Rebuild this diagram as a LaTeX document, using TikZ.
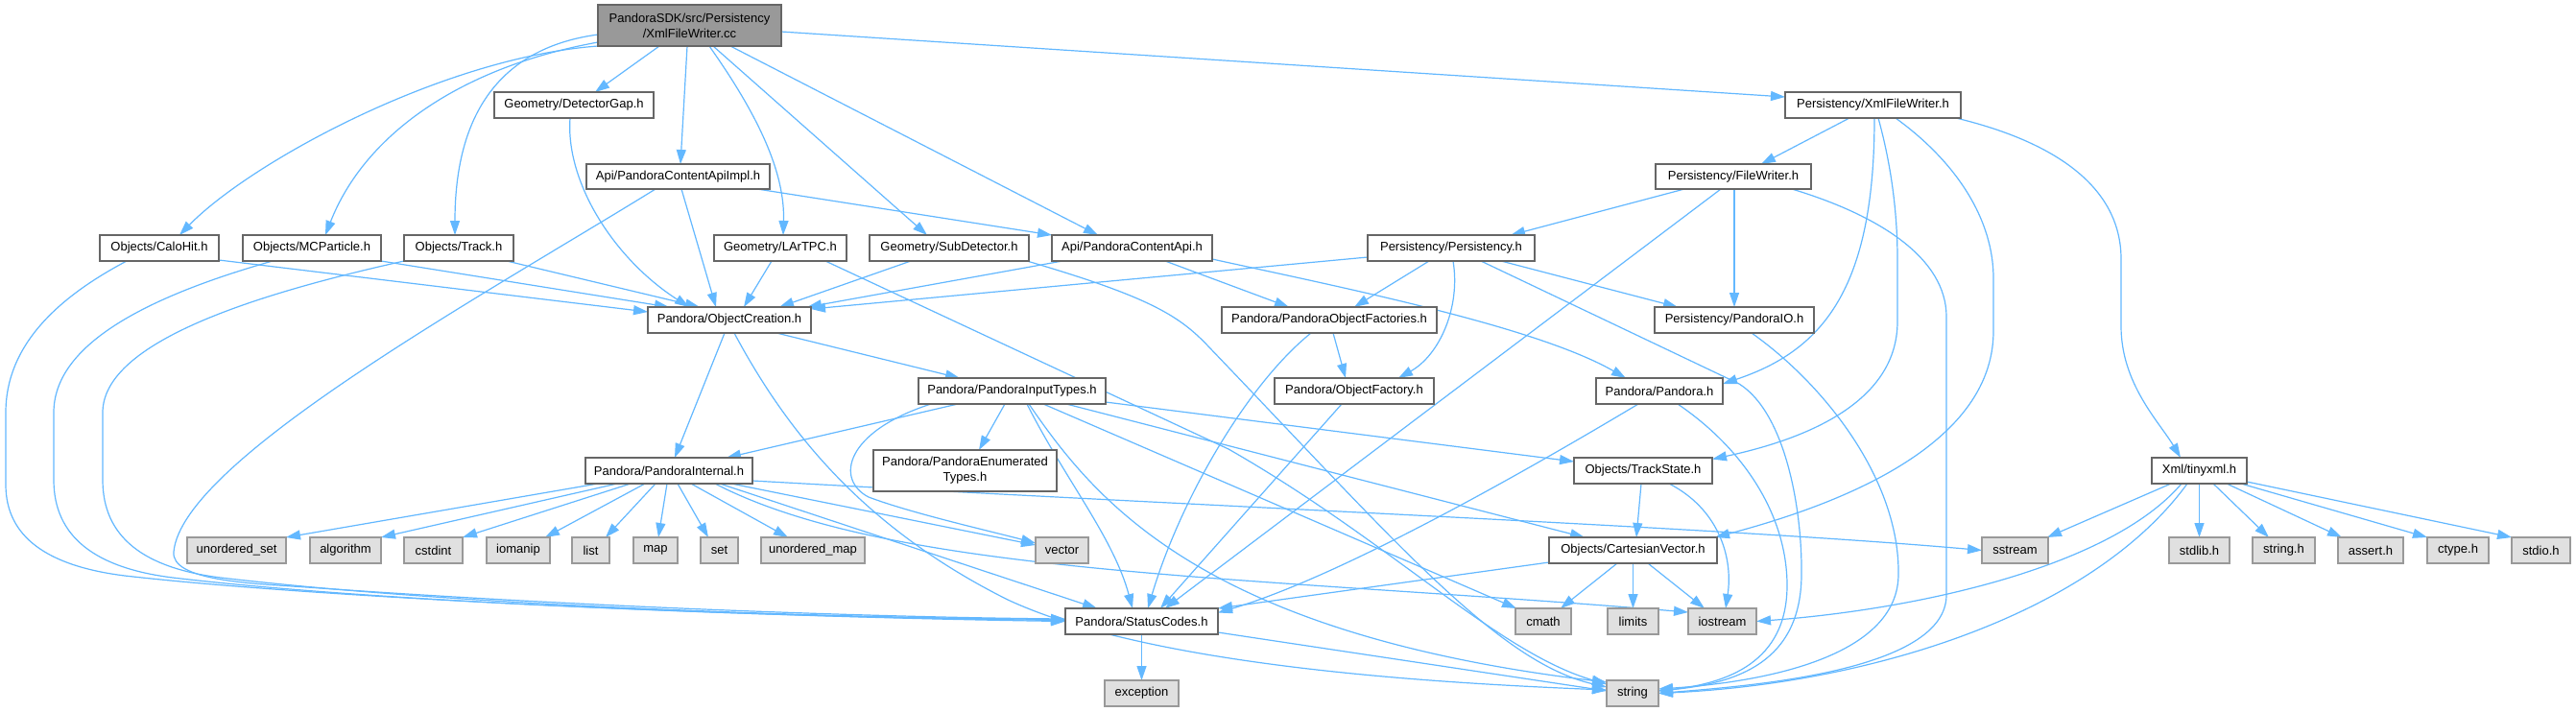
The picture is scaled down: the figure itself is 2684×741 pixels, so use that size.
\documentclass[tikz,border=0pt]{standalone}
\usepackage{fontspec}
\setmainfont{Liberation Sans}
\usetikzlibrary{arrows.meta,calc}
\definecolor{edgeblue}{HTML}{63B8FF}
\definecolor{bordergray}{HTML}{666666}
\definecolor{lightborder}{HTML}{999999}
\definecolor{extfill}{HTML}{E0E0E0}
\definecolor{mainfill}{HTML}{999999}
\pgfdeclarelayer{bg}
\pgfsetlayers{bg,main}
\newcommand{\gnode}[7]{\node[#1, minimum width={(#5-#3)*0.5pt}, minimum height={(#6-#4)*0.5pt}] (#2) at ({(#3+#5)/2},{(#4+#6)/2}) {#7};}
\begin{document}
\begin{tikzpicture}[x=0.5pt, y=-0.5pt,
  basebox/.style={rectangle, inner sep=0pt, outer sep=0pt, line width=0.7pt, align=center, text=black, font=\fontsize{6.5}{8}\selectfont},
  wnode/.style={basebox, draw=bordergray, fill=white},
  xnode/.style={basebox, draw=lightborder, fill=extfill},
  mainnode/.style={basebox, draw=bordergray, fill=mainfill},
  dep/.style={draw=edgeblue, line width=0.6pt, -{Triangle[length=7.5pt,width=5pt]}}]
\useasboundingbox (0,0) rectangle (2684,741);
% nodes
\gnode{mainnode}{main}{623}{5}{814}{48}{PandoraSDK/src/Persistency\\/XmlFileWriter.cc}
\gnode{wnode}{detgap}{515}{96}{681}{123}{Geometry/DetectorGap.h}
\gnode{wnode}{xmlh}{1860}{96}{2043}{123}{Persistency/XmlFileWriter.h}
\gnode{wnode}{apiimpl}{611}{171}{802}{197}{Api/PandoraContentApiImpl.h}
\gnode{wnode}{filewriter}{1725}{171}{1887}{197}{Persistency/FileWriter.h}
\gnode{wnode}{calohit}{104}{245}{228}{272}{Objects/CaloHit.h}
\gnode{wnode}{mcpart}{253}{245}{397}{272}{Objects/MCParticle.h}
\gnode{wnode}{track}{421}{245}{535}{272}{Objects/Track.h}
\gnode{wnode}{lartpc}{744}{245}{882}{272}{Geometry/LArTPC.h}
\gnode{wnode}{subdet}{906}{245}{1072}{272}{Geometry/SubDetector.h}
\gnode{wnode}{api}{1096}{245}{1263}{272}{Api/PandoraContentApi.h}
\gnode{wnode}{persist}{1425}{245}{1599}{272}{Persistency/Persistency.h}
\gnode{wnode}{objcreate}{675}{320}{845}{347}{Pandora/ObjectCreation.h}
\gnode{wnode}{objfact}{1273}{320}{1497}{347}{Pandora/PandoraObjectFactories.h}
\gnode{wnode}{pandoraio}{1724}{320}{1890}{347}{Persistency/PandoraIO.h}
\gnode{wnode}{inputtypes}{957}{394}{1152}{421}{Pandora/PandoraInputTypes.h}
\gnode{wnode}{objfactory}{1328}{394}{1494}{421}{Pandora/ObjectFactory.h}
\gnode{wnode}{pandorah}{1663}{394}{1795}{421}{Pandora/Pandora.h}
\gnode{wnode}{internal}{610}{477}{784}{504}{Pandora/PandoraInternal.h}
\gnode{wnode}{enumtypes}{910}{469}{1101}{512}{Pandora/PandoraEnumerated\\Types.h}
\gnode{wnode}{trackstate}{1640}{477}{1784}{504}{Objects/TrackState.h}
\gnode{wnode}{tinyxml}{2242}{477}{2341}{504}{Xml/tinyxml.h}
\gnode{xnode}{unordset}{195}{560}{298}{587}{unordered\_set}
\gnode{xnode}{algorithm}{323}{560}{397}{587}{algorithm}
\gnode{xnode}{cstdint}{421}{560}{482}{587}{cstdint}
\gnode{xnode}{iomanip}{507}{560}{573}{587}{iomanip}
\gnode{xnode}{list}{596}{560}{635}{587}{list}
\gnode{xnode}{map}{660}{560}{706}{587}{map}
\gnode{xnode}{set}{730}{560}{769}{587}{set}
\gnode{xnode}{unordmap}{793}{560}{901}{587}{unordered\_map}
\gnode{xnode}{vector}{1079}{560}{1134}{587}{vector}
\gnode{wnode}{cartvec}{1614}{560}{1789}{587}{Objects/CartesianVector.h}
\gnode{xnode}{sstream}{2065}{560}{2134}{587}{sstream}
\gnode{xnode}{stdlib}{2260}{560}{2323}{587}{stdlib.h}
\gnode{xnode}{stringh}{2347}{560}{2412}{587}{string.h}
\gnode{xnode}{assert}{2436}{560}{2504}{587}{assert.h}
\gnode{xnode}{ctype}{2529}{560}{2593}{587}{ctype.h}
\gnode{xnode}{stdio}{2617}{560}{2678}{587}{stdio.h}
\gnode{wnode}{statuscodes}{1110}{634}{1269}{661}{Pandora/StatusCodes.h}
\gnode{xnode}{cmath}{1579}{634}{1637}{661}{cmath}
\gnode{xnode}{limits}{1675}{634}{1728}{661}{limits}
\gnode{xnode}{iostream}{1759}{634}{1830}{661}{iostream}
\gnode{xnode}{exception}{1151}{709}{1228}{736}{exception}
\gnode{xnode}{string}{1674}{709}{1728}{736}{string}
\begin{pgfonlayer}{bg}
\fill[white] (0,0) rectangle (2684,741);
% main file
\draw[dep] (main.south west) .. controls (460,60) and (260,170) .. ($(calohit.north)+(21,0)$);
\draw[dep] ($(main.south west)+(0,-4)$) .. controls (480,70) and (380,140) .. ($(mcpart.north)+(14,0)$);
\draw[dep] ($(main.west)+(0,9.5)$) .. controls (520,50) and (474,120) .. ($(track.north)+(-4,0)$);
\draw[dep] ($(main.south)+(-31.5,0)$) -- ($(detgap.north)+(22,0)$);
\draw[dep] ($(main.south)+(-2.5,0)$) -- ($(apiimpl.north)+(2.5,0)$);
\draw[dep] ($(main.south)+(20.5,0)$) .. controls (790,120) and (818,180) .. ($(lartpc.north)+(3,0)$);
\draw[dep] ($(main.south)+(24.5,0)$) -- ($(subdet.north)+(-23,0)$);
\draw[dep] ($(main.south)+(42.5,0)$) -- ($(api.north)+(-35.5,0)$);
\draw[dep] ($(main.east)+(0,6.5)$) -- ($(xmlh.west)+(0,-8.5)$);
% detector gap, api impl
\draw[dep] ($(detgap.south)+(-4,0)$) .. controls (589,190) and (640,270) .. ($(objcreate.north)+(-42,0)$);
\draw[dep] ($(apiimpl.south)+(3.5,0)$) -- ($(objcreate.north)+(-14,0)$);
\draw[dep] ($(apiimpl.south)+(82.5,0)$) -- (api.north west);
\draw[dep] ($(apiimpl.south)+(-23.5,0)$) .. controls (500,310) and (190,480) .. (181,575) .. controls (178,605) and (260,608) .. (320,612) .. controls (600,632) and (900,643) .. ($(statuscodes.west)+(0,-2.5)$);
% objects row
\draw[dep] ($(calohit.east)+(0,12.5)$) -- ($(objcreate.west)+(0,-8.5)$);
\draw[dep] ($(calohit.south)+(-34,0)$) .. controls (60,310) and (6,360) .. (6,430) -- (6,505) .. controls (6,560) and (50,590) .. (130,600) .. controls (350,625) and (800,643) .. (statuscodes.west);
\draw[dep] (mcpart.south east) -- ($(objcreate.north)+(-63,0)$);
\draw[dep] ($(mcpart.south)+(-41,0)$) .. controls (150,310) and (56,360) .. (56,430) -- (56,500) .. controls (56,560) and (100,592) .. (180,602) .. controls (400,628) and (800,643) .. ($(statuscodes.west)+(0,-1)$);
\draw[dep] ($(track.south)+(50,0)$) -- ($(objcreate.north)+(-31,0)$);
\draw[dep] (track.south west) .. controls (250,310) and (107,360) .. (107,430) -- (107,500) .. controls (107,560) and (150,592) .. (230,602) .. controls (450,628) and (800,643) .. ($(statuscodes.west)+(0,-2)$);
\draw[dep] ($(lartpc.south)+(-9,0)$) -- ($(objcreate.north)+(15,0)$);
\draw[dep] ($(lartpc.south)+(47,0)$) -- (1280,468) .. controls (1450,565) and (1560,680) .. ($(string.west)+(0,-9.5)$);
\draw[dep] ($(subdet.south)+(-40,0)$) -- ($(objcreate.north)+(52,0)$);
\draw[dep] ($(subdet.south east)+(-2,0)$) .. controls (1200,310) and (1230,330) .. (1260,362) .. controls (1450,560) and (1560,690) .. ($(string.west)+(0,-6.5)$);
\draw[dep] ($(api.south west)+(11,0)$) -- ($(objcreate.north)+(81,0)$);
\draw[dep] ($(api.south)+(34.5,0)$) -- ($(objfact.north)+(-42,0)$);
\draw[dep] ($(api.east)+(0,11.5)$) .. controls (1400,300) and (1600,340) .. ($(pandorah.north)+(-35,0)$);
\draw[dep] ($(persist.west)+(0,9.5)$) -- ($(objcreate.east)+(0,-11.5)$);
\draw[dep] ($(persist.south)+(-23,0)$) -- ($(objfact.north)+(26,0)$);
\draw[dep] ($(persist.south)+(2,0)$) .. controls (1522,320) and (1500,370) .. ($(objfactory.north)+(46,0)$);
\draw[dep] ($(persist.south)+(52,0)$) -- ($(pandoraio.north)+(-59,0)$);
\draw[dep] ($(persist.south)+(31,0)$) -- (1812,400) .. controls (1860,430) and (1878,530) .. (1877,600) .. controls (1876,690) and (1810,712) .. ($(string.east)+(0,-2.5)$);
% xml file writer header
\draw[dep] ($(xmlh.south)+(-24.5,0)$) -- ($(filewriter.north)+(29,0)$);
\draw[dep] ($(xmlh.south)+(1.5,0)$) .. controls (1953,300) and (1900,365) .. ($(pandorah.east)+(0,-7.5)$);
\draw[dep] ($(xmlh.south)+(5.5,0)$) .. controls (1970,170) and (1977,220) .. (1977,270) -- (1977,335) .. controls (1977,420) and (1880,458) .. ($(trackstate.east)+(0,-12)$);
\draw[dep] ($(xmlh.south)+(23.5,0)$) .. controls (2040,170) and (2077,230) .. (2077,290) -- (2077,345) .. controls (2077,470) and (1900,530) .. ($(cartvec.north)+(85.5,0)$);
\draw[dep] ($(xmlh.south)+(86.5,0)$) .. controls (2150,150) and (2210,200) .. (2210,270) -- (2210,340) .. controls (2210,400) and (2250,440) .. ($(tinyxml.north)+(-19.5,0)$);
% file writer
\draw[dep] ($(filewriter.south)+(-51,0)$) -- ($(persist.north)+(62,0)$);
\draw[dep] ($(filewriter.south)+(-13,0)$) -- ($(statuscodes.north)+(24.5,0)$);
\draw[dep] ($(filewriter.south)+(1,0)$) -- (pandoraio.north);
\draw[dep] ($(filewriter.south)+(61,0)$) .. controls (1960,225) and (2028,270) .. (2028,330) -- (2028,620) .. controls (2028,700) and (1820,715) .. (string.east);
% object creation
\draw[dep] ($(objcreate.south)+(49,0)$) -- ($(inputtypes.north)+(-54.5,0)$);
\draw[dep] ($(objcreate.south)+(-5,0)$) -- ($(internal.north)+(6,0)$);
\draw[dep] ($(objcreate.south)+(5,0)$) .. controls (820,450) and (900,550) .. (1050,625) .. controls (1200,695) and (1500,712) .. ($(string.west)+(0,-3.5)$);
% factories
\draw[dep] ($(objfact.south)+(4,0)$) -- ($(objfactory.north)+(-9,0)$);
\draw[dep] ($(objfact.south)+(-19,0)$) .. controls (1300,400) and (1230,520) .. ($(statuscodes.north)+(6.5,0)$);
\draw[dep] ($(objfactory.south)+(-13,0)$) -- ($(statuscodes.north)+(19.5,0)$);
\draw[dep] ($(pandoraio.south)+(18,0)$) .. controls (1900,400) and (1980,500) .. (1978,600) .. controls (1976,690) and (1820,712) .. ($(string.east)+(0,-4.5)$);
% input types
\draw[dep] ($(inputtypes.south)+(-56.5,0)$) -- ($(internal.north)+(60,0)$);
\draw[dep] ($(inputtypes.south)+(-84.5,0)$) .. controls (880,450) and (870,500) .. (905,518) .. controls (950,535) and (1030,553) .. ($(vector.west)+(0,-7.5)$);
\draw[dep] ($(inputtypes.south)+(-7.5,0)$) -- ($(enumtypes.north)+(14.5,0)$);
\draw[dep] ($(inputtypes.south)+(15.5,0)$) .. controls (1110,500) and (1160,560) .. ($(statuscodes.north)+(-9.5,0)$);
\draw[dep] ($(inputtypes.south)+(17.5,0)$) .. controls (1140,520) and (1250,660) .. ($(string.west)+(0,-11.5)$);
\draw[dep] ($(inputtypes.south)+(32.5,0)$) -- ($(cmath.north)+(-28,0)$);
\draw[dep] ($(inputtypes.south)+(56.5,0)$) -- ($(cartvec.north)+(-50.5,0)$);
\draw[dep] ($(inputtypes.east)+(0,11.5)$) -- ($(trackstate.west)+(0,-9.5)$);
% pandora.h
\draw[dep] ($(pandorah.south)+(-22,0)$) .. controls (1600,485) and (1400,600) .. ($(statuscodes.east)+(0,-9)$);
\draw[dep] ($(pandorah.south)+(19,0)$) .. controls (1820,470) and (1862,540) .. (1862,610) .. controls (1862,690) and (1800,712) .. ($(string.east)+(0,-2.5)$);
% pandora internal
\draw[dep] ($(internal.south)+(-74,0)$) -- (unordset.north east);
\draw[dep] ($(internal.south)+(-54,0)$) -- (algorithm.north east);
\draw[dep] ($(internal.south)+(-40,0)$) -- (cstdint.north east);
\draw[dep] ($(internal.south)+(-25,0)$) -- ($(iomanip.north)+(28,0)$);
\draw[dep] ($(internal.south)+(-14,0)$) -- ($(list.north)+(15.5,0)$);
\draw[dep] ($(internal.south)+(-2,0)$) -- ($(map.north)+(3,0)$);
\draw[dep] ($(internal.south)+(9,0)$) -- ($(set.north)+(-11.5,0)$);
\draw[dep] ($(internal.south)+(23,0)$) -- ($(unordmap.north)+(-26,0)$);
\draw[dep] ($(internal.south)+(65,0)$) -- ($(vector.west)+(0,-5.5)$);
\draw[dep] ($(internal.east)+(0,10.5)$) .. controls (1300,530) and (1800,550) .. (sstream.west);
\draw[dep] ($(internal.south)+(48,0)$) .. controls (930,600) and (1300,600) .. ($(iostream.west)+(0,-9.5)$);
\draw[dep] ($(internal.south)+(53,0)$) -- ($(statuscodes.north)+(-46.5,0)$);
% track state, cartesian vector
\draw[dep] ($(trackstate.south)+(-2,0)$) -- ($(cartvec.north)+(3.5,0)$);
\draw[dep] ($(trackstate.south)+(27,0)$) .. controls (1790,530) and (1806,580) .. ($(iostream.north)+(3.5,0)$);
\draw[dep] ($(cartvec.west)+(0,12.5)$) -- (statuscodes.north east);
\draw[dep] ($(cartvec.south)+(-16.5,0)$) -- ($(cmath.north)+(18,0)$);
\draw[dep] (cartvec.south) -- (limits.north);
\draw[dep] ($(cartvec.south)+(15.5,0)$) -- ($(iostream.north)+(-18.5,0)$);
% status codes
\draw[dep] (statuscodes.south) -- (exception.north);
\draw[dep] ($(statuscodes.east)+(0,11.5)$) -- ($(string.west)+(0,-2.5)$);
% tinyxml
\draw[dep] ($(tinyxml.south)+(-29.5,0)$) -- ($(sstream.north east)+(-1,0)$);
\draw[dep] (tinyxml.south) -- (stdlib.north);
\draw[dep] ($(tinyxml.south)+(14.5,0)$) -- ($(stringh.north)+(-15.5,0)$);
\draw[dep] ($(tinyxml.south)+(28.5,0)$) -- ($(assert.north)+(-30,0)$);
\draw[dep] ($(tinyxml.south)+(43.5,0)$) -- (ctype.north west);
\draw[dep] ($(tinyxml.east)+(0,11.5)$) -- (stdio.north west);
\draw[dep] ($(tinyxml.south)+(-18.5,0)$) .. controls (2200,590) and (2000,635) .. (iostream.east);
\draw[dep] ($(tinyxml.south)+(-12.5,0)$) .. controls (2180,640) and (1950,712) .. (string.east);
\end{pgfonlayer}
\end{tikzpicture}
\end{document}
